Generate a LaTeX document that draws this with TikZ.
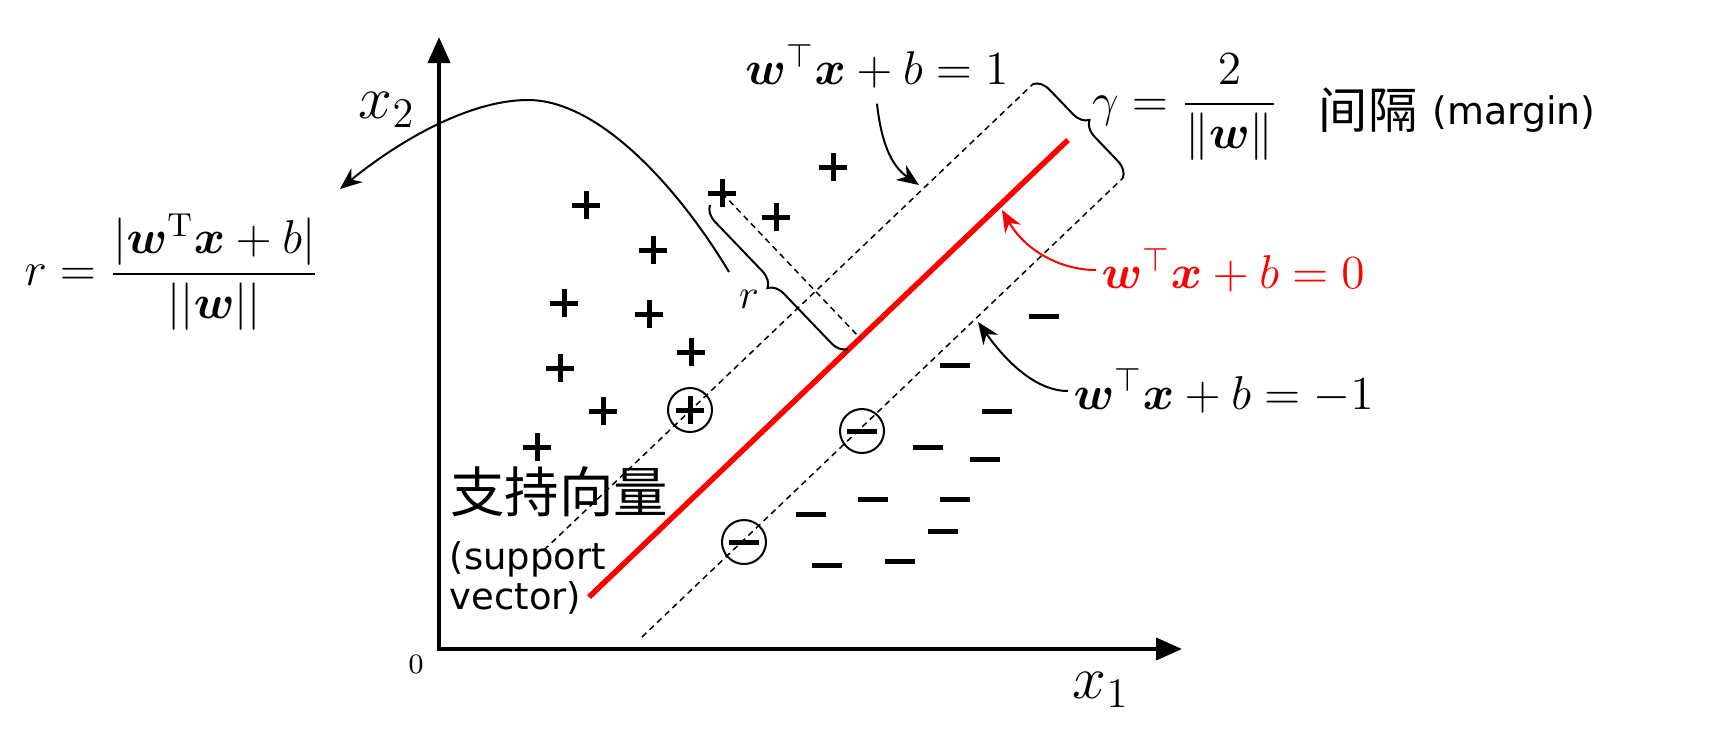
\RequirePackage{fix-cm}
\documentclass[tikz,border=0pt]{standalone}
\usepackage{amsmath}
\usepackage{fontspec}
\usepackage{bm}
\newfontfamily\cjkfont{Noto Sans CJK SC}
\newfontfamily\notefont{DejaVu Sans}
\usetikzlibrary{arrows.meta,decorations.pathreplacing}

\begin{document}
\begin{tikzpicture}
  [x=0.1mm,y=-0.1mm,
   every node/.style={inner sep=0pt},
   axis/.style={line width=0.4mm,{Triangle[length=2.6mm,width=2.2mm]}-{Triangle[length=2.6mm,width=2.2mm]}},
   bound/.style={line width=0.15mm,dash pattern=on 0.6mm off 0.45mm},
   hyper/.style={red,line width=0.55mm},
   markline/.style={line width=0.5mm},
   callout/.style={line width=0.2mm,-{Stealth[length=2.2mm,width=1.8mm]}},
   bracket/.style={line width=0.2mm,decorate,decoration={brace,amplitude=1.6mm}},
   eq/.style={font=\fontsize{13.5}{16}\selectfont},
   plusm/.pic={\draw[markline] (-14,0) -- (14,0) (0,-14) -- (0,14);},
   minusm/.pic={\draw[markline] (-15,0) -- (15,0);}]
  \useasboundingbox (0,0) rectangle (1726,732);

  % axes
  \coordinate (yend) at (439,37);
  \coordinate (xend) at (1182,649);
  \draw[axis] (yend) |- (xend);
  \node (zero) at (416,664) {\footnotesize $0$};
  \node (xone) at (1101,690) [font=\fontsize{17.28}{20}\selectfont] {$x_1$};
  \node (xtwo) at (387,110) [font=\fontsize{17.28}{20}\selectfont] {$x_2$};

  % margin lines and hyperplane
  \coordinate (upA) at (544,550);
  \coordinate (upB) at (1033,84);
  \coordinate (lowA) at (642,637);
  \coordinate (lowB) at (1123,178);
  \coordinate (redA) at (589,597);
  \coordinate (redB) at (1068,140);
  \draw[bound] (upA) -- (upB);
  \draw[bound] (lowA) -- (lowB);
  \draw[hyper] (redA) -- (redB);
  \draw[bracket] (upB) -- (lowB);

  % distance r
  \coordinate (pr) at (722,193);
  \coordinate (rfoot) at (860,338);
  \coordinate (rbA) at (710,205);
  \coordinate (rbB) at (848,349);
  \draw[bound] (pr) -- (rfoot);
  \draw[bracket] (rbB) -- (rbA);
  \node (rlab) at (749,299) [font=\fontsize{12}{14}\selectfont] {$r$};

  % samples
  \foreach \px/\py in {586/205,653/250,564/303,649/314,560/368,691/352,603/411,537/447,722/193,776/217,833/167,690/410}
    \pic at (\px,\py) {plusm};
  \foreach \mx/\my in {1044/316,955/365,997/411,928/447,985/459,873/499,955/499,811/514,943/531,827/565,900/561,862/431,744/542}
    \pic at (\mx,\my) {minusm};
  \foreach \cx/\cy in {690/410,862/431,744/542}
    \draw[line width=0.2mm] (\cx,\cy) circle[radius=22];

  % labels
  \node (rform) at (172,272) [eq] {$r=\dfrac{|\bm{w}^{\mathrm{T}}\bm{x}+b|}{||\bm{w}||}$};
  \node (hpos) at (877,66) [eq] {$\bm{w}^{\top}\bm{x}+b=1$};
  \node (gform) at (1185,107) [eq] {$\gamma=\dfrac{2}{\|\bm{w}\|}$};
  \node (gap) at (1368,110) {\cjkfont\fontsize{14}{17}\selectfont 间隔};
  \node (gapen) at (1514,114) {\notefont\fontsize{10.8}{12}\selectfont (margin)};
  \node (hzero) [eq,red,anchor=west] at (1101,270) {$\bm{w}^{\top}\bm{x}+b=0$};
  \node (hneg) [eq,anchor=west] at (1073,391) {$\bm{w}^{\top}\bm{x}+b=-1$};
  \node (sv) at (559,492) {\cjkfont\fontsize{15.5}{18}\selectfont 支持向量};
  \node (sven) [anchor=west,align=left,font=\notefont\fontsize{10.5}{11.5}\selectfont] at (449,578) {(support\\vector)};

  % callouts
  \draw[callout] ([yshift=-1.5mm]hpos.south) .. controls (881,140) and (890,165) .. (919,185);
  \draw[callout,red] ([xshift=-0.5mm]hzero.west) .. controls (1060,270) and (1025,250) .. (1002,210);
  \draw[callout] ([xshift=-0.5mm]hneg.west) .. controls (1035,391) and (1005,360) .. (978,322);
  \draw[callout] ([shift={(-20,-27)}]rlab.center) .. controls (680,190) and (600,100) .. (528,100)
    .. controls (470,100) and (400,140) .. ([shift={(168,-83)}]rform.center);
\end{tikzpicture}
\end{document}
